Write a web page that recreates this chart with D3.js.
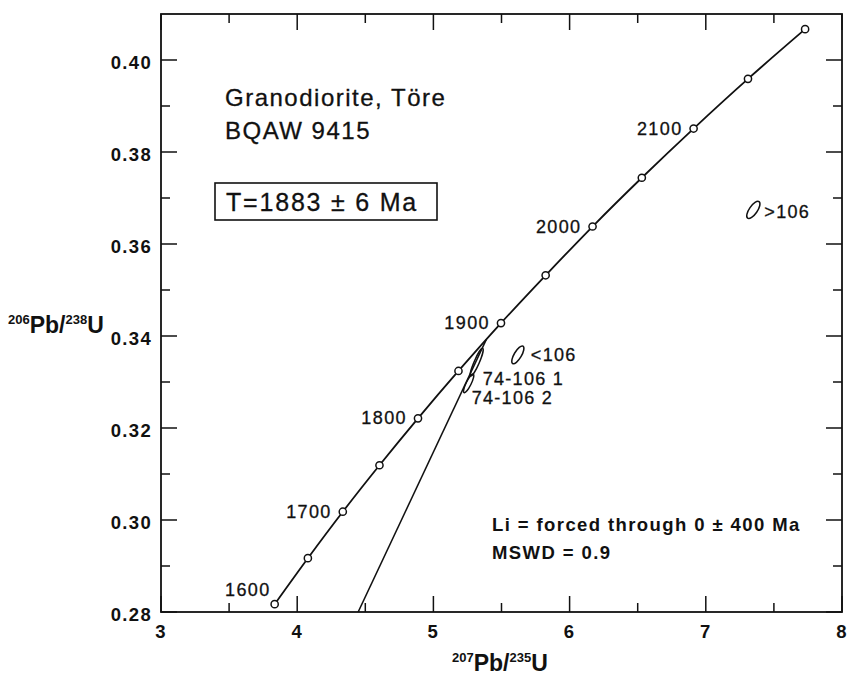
<!DOCTYPE html>
<html>
<head>
<meta charset="utf-8">
<script src="https://cdn.jsdelivr.net/npm/d3@7"></script>
<style>
  body { margin: 0; background: #fff; }
  svg { display: block; font-family: 'Liberation Sans', Arial, Helvetica, sans-serif; }
  .frame { fill: none; stroke: #111; stroke-width: 1.8; }
  .tick { stroke: #111; stroke-width: 1.5; }
  .tick-label { font-size: 18.5px; font-weight: bold; letter-spacing: 1.3px; fill: #111; }
  .axis-title { font-size: 23px; font-weight: bold; fill: #111; }
  .concordia { fill: none; stroke: #111; stroke-width: 1.8; }
  .discordia { fill: none; stroke: #111; stroke-width: 1.5; }
  .age-dot { fill: #fff; stroke: #111; stroke-width: 1.5; }
  .age-label { font-size: 18px; letter-spacing: 1.4px; fill: #111; stroke: #111; stroke-width: 0.3; }
  .fraction { fill: none; stroke: #111; stroke-width: 1.5; }
  .fraction-label { font-size: 18px; letter-spacing: 1.3px; fill: #111; stroke: #111; stroke-width: 0.3; }
  .title { font-size: 24px; letter-spacing: 1.5px; fill: #111; stroke: #111; stroke-width: 0.3; }
  .note { font-size: 18.5px; font-weight: bold; letter-spacing: 1.4px; fill: #111; }
</style>
</head>
<body>
<div id="chart"></div>
<script>
// concordia points, every 50 Ma
const concordiaAges = [1600, 1650, 1700, 1750, 1800, 1850, 1900, 1950, 2000, 2050, 2100, 2150, 2200];
const concordiaX = [3.8345, 4.0784, 4.3348, 4.6040, 4.8869, 5.1841, 5.4962, 5.8241, 6.1685, 6.5303, 6.9104, 7.3097, 7.7291];
const concordiaY = [0.2817, 0.2917, 0.3018, 0.3119, 0.3221, 0.3324, 0.3428, 0.3532, 0.3638, 0.3744, 0.3851, 0.3959, 0.4067];
const labelledAges = [1600, 1700, 1800, 1900, 2000, 2100];

// discordia: lower intercept forced through 0, upper intercept 1883 Ma
const discordiaX = [0, 5.388];
const discordiaY = [0, 0.3392];

// analysed fractions (error ellipses)
const fractionNames = ['74-106 1', '74-106 2', '<106', '>106'];
const fractionX = [5.318, 5.259, 5.620, 7.349];
const fractionY = [0.3343, 0.3297, 0.3359, 0.3674];
const fractionHalfX = [0.044, 0.034, 0.038, 0.042];
const fractionHalfY = [0.0030, 0.0020, 0.0019, 0.0018];
const fractionAspect = [0.17, 0.24, 0.36, 0.4];

const xTicks = [3, 4, 5, 6, 7, 8];
const xMinorTicks = [3.5, 4.5, 5.5, 6.5, 7.5];
const yTicks = [0.28, 0.30, 0.32, 0.34, 0.36, 0.38, 0.40];
const yMinorTicks = [0.29, 0.31, 0.33, 0.35, 0.37, 0.39];

const sampleName = 'Granodiorite, Töre';
const sampleId = 'BQAW 9415';
const ageText = 'T=1883 ± 6 Ma';
const notes = ['Li = forced through 0 ± 400 Ma', 'MSWD = 0.9'];

const width = 849, height = 676;
const margin = {left: 161, right: 7, top: 14, bottom: 64};

const x = d3.scaleLinear().domain([3, 8]).range([margin.left, width - margin.right]);
const y = d3.scaleLinear().domain([0.28, 0.41]).range([height - margin.bottom, margin.top]);

const svg = d3.select('#chart').append('svg')
    .attr('width', width)
    .attr('height', height);

svg.append('clipPath').attr('id', 'plot-clip')
    .append('rect')
    .attr('x', x(3)).attr('y', y(0.41))
    .attr('width', x(8) - x(3)).attr('height', y(0.28) - y(0.41));

// ticks, pointing inwards on all four sides
const majorLen = 16, minorLen = 9;
function xTickMarks(values, len) {
    values.forEach(v => {
        svg.append('line').attr('class', 'tick')
            .attr('x1', x(v)).attr('x2', x(v))
            .attr('y1', y(0.28)).attr('y2', y(0.28) - len);
        svg.append('line').attr('class', 'tick')
            .attr('x1', x(v)).attr('x2', x(v))
            .attr('y1', y(0.41)).attr('y2', y(0.41) + len);
    });
}
function yTickMarks(values, len) {
    values.forEach(v => {
        svg.append('line').attr('class', 'tick')
            .attr('x1', x(3)).attr('x2', x(3) + len)
            .attr('y1', y(v)).attr('y2', y(v));
        svg.append('line').attr('class', 'tick')
            .attr('x1', x(8)).attr('x2', x(8) - len)
            .attr('y1', y(v)).attr('y2', y(v));
    });
}
xTickMarks(xTicks, majorLen);
xTickMarks(xMinorTicks, minorLen);
yTickMarks(yTicks, majorLen);
yTickMarks(yMinorTicks, minorLen);

svg.append('rect').attr('class', 'frame')
    .attr('x', x(3)).attr('y', y(0.41))
    .attr('width', x(8) - x(3)).attr('height', y(0.28) - y(0.41));

svg.selectAll('.x-label')
    .data(xTicks)
    .enter().append('text')
    .attr('class', 'tick-label x-label')
    .attr('x', d => x(d))
    .attr('y', y(0.28) + 26)
    .attr('text-anchor', 'middle')
    .text(d => d);

svg.selectAll('.y-label')
    .data(yTicks)
    .enter().append('text')
    .attr('class', 'tick-label y-label')
    .attr('x', x(3) - 9)
    .attr('y', d => y(d) + 9)
    .attr('text-anchor', 'end')
    .text(d => d3.format('.2f')(d));

// axis titles with superscripts
function isotopeTitle(tx, ty, topMass, bottomMass, bottomEl) {
    let t = svg.append('text').attr('class', 'axis-title').attr('x', tx).attr('y', ty);
    t.append('tspan').attr('font-size', '13px').attr('dy', -9).text(topMass);
    t.append('tspan').attr('dy', 9).text('Pb/');
    t.append('tspan').attr('font-size', '13px').attr('dy', -9).text(bottomMass);
    t.append('tspan').attr('dy', 9).text(bottomEl);
}
isotopeTitle(452, 671, '207', '235', 'U');
isotopeTitle(8, 333, '206', '238', 'U');

const plot = svg.append('g').attr('clip-path', 'url(#plot-clip)');

// discordia
plot.append('line').attr('class', 'discordia')
    .attr('x1', x(discordiaX[0])).attr('y1', y(discordiaY[0]))
    .attr('x2', x(discordiaX[1])).attr('y2', y(discordiaY[1]));

// concordia
const concordia = concordiaAges.map((a, i) => ({age: a, x: concordiaX[i], y: concordiaY[i]}));
plot.append('path').attr('class', 'concordia')
    .attr('d', d3.line().x(d => x(d.x)).y(d => y(d.y)).curve(d3.curveCatmullRom)(concordia));

// error ellipses
const fractions = fractionNames.map((n, i) => {
    let x0 = x(fractionX[i] - fractionHalfX[i]), y0 = y(fractionY[i] - fractionHalfY[i]);
    let x1 = x(fractionX[i] + fractionHalfX[i]), y1 = y(fractionY[i] + fractionHalfY[i]);
    let rx = Math.hypot(x1 - x0, y1 - y0) / 2;
    return {
        name: n,
        cx: x(fractionX[i]),
        cy: y(fractionY[i]),
        rx: rx,
        ry: rx * fractionAspect[i],
        angle: Math.atan2(y1 - y0, x1 - x0) * 180 / Math.PI
    };
});
svg.selectAll('.fraction')
    .data(fractions)
    .enter().append('ellipse')
    .attr('class', 'fraction')
    .attr('transform', d => 'translate(' + d.cx + ',' + d.cy + ')rotate(' + d.angle + ')')
    .attr('rx', d => d.rx)
    .attr('ry', d => d.ry);

const fractionLabelOffset = {
    '74-106 1': [6, 23],
    '74-106 2': [3, 21],
    '<106': [13, 6],
    '>106': [11, 8]
};
svg.selectAll('.fraction-label')
    .data(fractions)
    .enter().append('text')
    .attr('class', 'fraction-label')
    .attr('x', d => d.cx + fractionLabelOffset[d.name][0])
    .attr('y', d => d.cy + fractionLabelOffset[d.name][1])
    .text(d => d.name);

svg.selectAll('.age-dot')
    .data(concordia)
    .enter().append('circle')
    .attr('class', 'age-dot')
    .attr('cx', d => x(d.x))
    .attr('cy', d => y(d.y))
    .attr('r', 3.6);

svg.selectAll('.age-label')
    .data(concordia.filter(d => labelledAges.includes(d.age)))
    .enter().append('text')
    .attr('class', 'age-label')
    .attr('x', d => x(d.x) - (d.age === 1600 ? 4 : 11))
    .attr('y', d => y(d.y) + (d.age === 1600 ? -8 : 6))
    .attr('text-anchor', 'end')
    .text(d => d.age);

// sample text
svg.append('text').attr('class', 'title').attr('x', 225).attr('y', 106).text(sampleName);
svg.append('text').attr('class', 'title').attr('x', 225).attr('y', 139).text(sampleId);

svg.append('rect')
    .attr('x', 215).attr('y', 183)
    .attr('width', 222).attr('height', 37)
    .attr('fill', 'none').attr('stroke', '#111').attr('stroke-width', 1.6);
svg.append('text').attr('class', 'title')
    .attr('x', 226).attr('y', 211)
    .style('font-size', '25px')
    .style('letter-spacing', '1.8px')
    .text(ageText);

svg.selectAll('.note')
    .data(notes)
    .enter().append('text')
    .attr('class', 'note')
    .attr('x', 492)
    .attr('y', (d, i) => 531 + i * 28)
    .text(d => d);
</script>
</body>
</html>
